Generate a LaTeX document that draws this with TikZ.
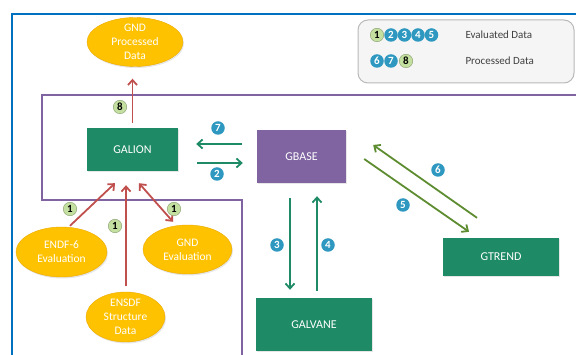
\documentclass[tikz,border=0pt]{standalone}
\usepackage{fontspec}
\setmainfont{Carlito}
\usepackage{tikz}
\usepackage{xcolor}
\usetikzlibrary{arrows.meta, shapes.geometric, shadows}

\definecolor{boxgreen}{RGB}{31,138,102}
\definecolor{basepurple}{RGB}{128,100,162}
\definecolor{ovalgold}{RGB}{255,194,0}
\definecolor{ovalrim}{RGB}{236,170,0}
\definecolor{arrowred}{RGB}{192,80,77}
\definecolor{arrowteal}{RGB}{31,138,102}
\definecolor{arrowolive}{RGB}{94,140,49}
\definecolor{frameblue}{RGB}{0,112,192}
\definecolor{badgeblue}{RGB}{46,152,192}
\definecolor{badgegreen}{RGB}{196,224,160}
\definecolor{legendtext}{RGB}{64,64,64}

\begin{document}
\begin{tikzpicture}[x=1pt, y=-1pt, >={Straight Barb[length=5pt, width=9pt]},
    prog/.style={rectangle, fill=#1, text=white, inner sep=0pt,
        font=\fontsize{12}{14}\selectfont,
        drop shadow={opacity=0.2, shadow xshift=1pt, shadow yshift=-1pt}},
    oval/.style={ellipse, fill=ovalgold, draw=ovalrim, text=white, align=center,
        inner xsep=0pt, inner ysep=-6pt, font=\fontsize{11.5}{13.7}\selectfont,
        drop shadow={opacity=0.2, shadow xshift=1pt, shadow yshift=-1.5pt}},
    bluebadge/.style={circle, fill=badgeblue, text=white, inner sep=0pt,
        minimum size=13.5pt, font=\fontsize{11}{11}\selectfont\bfseries},
    greenbadge/.style={circle, fill=badgegreen, draw=badgegreen!70!black, text=black,
        inner sep=0pt, minimum size=13.5pt, font=\fontsize{11}{11}\selectfont\bfseries},
    flow/.style={->, line width=1.8pt, draw=#1}]
    \useasboundingbox (0,0) rectangle (576,355);

    % Frames
    \draw [frameblue, line width=2pt] (12,355) -- (12,14) -- (576,14);
    \draw [basepurple, line width=1.2pt] (576,95) -- (42,95) -- (42,200) -- (242,200) -- (242,355);

    % Legend
    \node (legend) at (466,51.5) [rectangle, rounded corners=10pt, fill=gray!8, draw=gray!55,
        line width=1pt, minimum width=216pt, minimum height=63pt] {};
    \node (l1) at (377,35) [greenbadge] {1};
    \node (l2) at (391,35) [bluebadge] {2};
    \node (l3) at (404.5,35) [bluebadge] {3};
    \node (l4) at (418,35) [bluebadge] {4};
    \node (l5) at (431.5,35) [bluebadge] {5};
    \node (l6) at (377,61) [bluebadge] {6};
    \node (l7) at (391,61) [bluebadge] {7};
    \node (l8) at (406,61) [greenbadge] {8};
    \node (evaltext) at (462,35) [anchor=west, text=legendtext, font=\fontsize{11}{13}\selectfont] {Evaluated Data};
    \node (proctext) at (462,61) [anchor=west, text=legendtext, font=\fontsize{11}{13}\selectfont] {Processed Data};

    % Programs
    \node (galion) at (132.5,149.5) [prog=boxgreen, minimum width=91pt, minimum height=43pt] {GALION};
    \node (gbase) at (301.5,156.5) [prog=basepurple, minimum width=89pt, minimum height=53pt] {GBASE};
    \node (galvane) at (314,324.5) [prog=boxgreen, minimum width=116pt, minimum height=53pt] {GALVANE};
    \node (gtrend) at (501,257) [prog=boxgreen, minimum width=116pt, minimum height=38pt] {GTREND};

    % Data sources
    \node (gndproc) at (135,42) [oval, minimum width=96pt, minimum height=49pt] {GND\\Processed\\Data};
    \node (endf) at (61.5,252) [oval, minimum width=91pt, minimum height=50pt] {ENDF-6\\Evaluation};
    \node (gndeval) at (187.5,249.5) [oval, minimum width=89pt, minimum height=49pt] {GND\\Evaluation};
    \node (ensdf) at (125.5,317) [oval, minimum width=79pt, minimum height=50pt] {ENSDF\\Structure\\Data};

    % Red data flows
    \draw [flow=arrowred, shorten <=5pt, shorten >=12pt] (galion.north) -- (galion.north |- gndproc.south);
    \draw [flow=arrowred] ([shift={(8.5,-1)}]endf.north) -- ([shift={(-17.5,12)}]galion.south);
    \draw [flow=arrowred] ([shift={(0.5,-6)}]ensdf.north) -- ([shift={(-6.5,14)}]galion.south);
    \draw [flow=arrowred, <->] ([shift={(-14.5,-3)}]gndeval.north) -- ([shift={(6.5,12)}]galion.south);

    % Program flows
    \draw [flow=arrowteal] ([shift={(-15,-12.5)}]gbase.west) -- ([shift={(18,-5.5)}]galion.east);
    \draw [flow=arrowteal] ([shift={(19,13.5)}]galion.east) -- ([shift={(-14,6.5)}]gbase.west);
    \draw [flow=arrowteal] ([shift={(-11.5,15)}]gbase.south) -- ([shift={(-24,-8)}]galvane.north);
    \draw [flow=arrowteal] ([shift={(3,-7)}]galvane.north) -- ([shift={(15.5,13)}]gbase.south);
    \draw [flow=arrowolive] ([shift={(18,2.5)}]gbase.east) -- ([shift={(-32,-6)}]gtrend.north);
    \draw [flow=arrowolive] ([shift={(-24,-20)}]gtrend.north) -- ([shift={(27,-11.5)}]gbase.east);

    % Badges
    \node (b8) at (120,107) [greenbadge] {8};
    \node (b7) at (218,128) [bluebadge] {7};
    \node (b2) at (217,174) [bluebadge] {2};
    \node (b1a) at (70,209) [greenbadge] {1};
    \node (b1b) at (115,226) [greenbadge] {1};
    \node (b1c) at (174,209) [greenbadge] {1};
    \node (b3) at (277,245) [bluebadge] {3};
    \node (b4) at (328,245) [bluebadge] {4};
    \node (b5) at (403,205) [bluebadge] {5};
    \node (b6) at (438,170) [bluebadge] {6};
\end{tikzpicture}
\end{document}
